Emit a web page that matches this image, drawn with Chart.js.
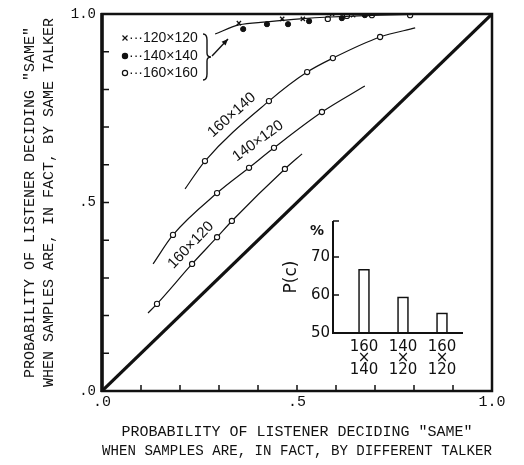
<!DOCTYPE html>
<html>
<head>
<meta charset="utf-8">
<script src="https://cdn.jsdelivr.net/npm/chart.js@4.4.1/dist/chart.umd.min.js"></script>
<style>
  html, body { margin: 0; padding: 0; background: #fff; }
  #wrap { position: relative; width: 524px; height: 465px; }
  #mainChart { position: absolute; left: 0; top: 0; }
  #insetChart { position: absolute; left: 275px; top: 210px; }
</style>
</head>
<body>
<div id="wrap">
  <canvas id="mainChart" width="524" height="465"></canvas>
  <canvas id="insetChart" width="205" height="170"></canvas>
</div>
<script>
let axisTickValues = [0, 0.5, 1],
  axisTickLabels = [".0", ".5", "1.0"];

let legendLabels = ["120×120", "140×140", "160×160"];

// same talker pairs, all squeezed up near 1.0
let same120x = [0.351, 0.462, 0.515, 0.59, 0.644],
  same120y = [0.976, 0.987, 0.987, 1.0, 0.997],
  same140x = [0.362, 0.423, 0.477, 0.531, 0.615, 0.674],
  same140y = [0.96, 0.973, 0.973, 0.981, 0.989, 0.997],
  same160x = [0.579, 0.628, 0.692, 0.79],
  same160y = [0.987, 0.995, 0.997, 0.997];
let sameFitX = [0.29, 0.351, 0.423, 0.508, 0.585, 0.713, 0.836],
  sameFitY = [0.947, 0.971, 0.979, 0.987, 0.992, 0.997, 1.0];

// different talker pairs (first and last value = where the drawn curve stops)
let curveLabels = ["160×140", "140×120", "160×120"];
let c160x140x = [0.213, 0.264, 0.428, 0.526, 0.592, 0.713, 0.803],
  c160x140y = [0.536, 0.61, 0.769, 0.846, 0.883, 0.939, 0.963];
let c140x120x = [0.131, 0.182, 0.295, 0.377, 0.441, 0.564, 0.674],
  c140x120y = [0.337, 0.414, 0.525, 0.592, 0.645, 0.74, 0.809];
let c160x120x = [0.118, 0.141, 0.231, 0.295, 0.333, 0.469, 0.513],
  c160x120y = [0.207, 0.231, 0.337, 0.408, 0.451, 0.589, 0.629];
let diagX = [0, 1],
  diagY = [0, 1];

// inset: percent correct
let pairLabels = [["160", "×", "140"], ["140", "×", "120"], ["160", "×", "120"]],
  pcValues = [66.8, 59.5, 55.3],
  pcTicks = [50, 60, 70];

let ink = "#111";
let mono = "'Liberation Mono', 'DejaVu Sans Mono', monospace";
let sans = "'DejaVu Sans', 'Liberation Sans', sans-serif";
let narrow = "'Liberation Sans', Arial, sans-serif";

Chart.defaults.color = ink;
Chart.defaults.animation = false;

let pts = (xs, ys) => xs.map((v, i) => ({ x: v, y: ys[i] }));
let endsHidden = (n) => (c) => (c.dataIndex === 0 || c.dataIndex === n - 1 ? 0 : 2.6);

let curveSet = (xs, ys) => ({
  data: pts(xs, ys),
  showLine: true,
  borderColor: ink,
  borderWidth: 1.2,
  cubicInterpolationMode: "monotone",
  pointRadius: endsHidden(xs.length),
  pointBackgroundColor: "#fff",
  pointBorderColor: ink,
  pointBorderWidth: 1.1,
});

// label spots along the curves (data units) and their slant
let curveLabelSpots = [
  { x: 0.333, y: 0.732, angle: -42 },
  { x: 0.4, y: 0.663, angle: -36 },
  { x: 0.228, y: 0.387, angle: -46 },
];

let drawMarker = (ctx, kind, px, py) => {
  ctx.beginPath();
  if (kind == 0) {
    ctx.moveTo(px - 2.5, py - 2.5); ctx.lineTo(px + 2.5, py + 2.5);
    ctx.moveTo(px + 2.5, py - 2.5); ctx.lineTo(px - 2.5, py + 2.5);
    ctx.stroke();
  } else {
    ctx.arc(px, py, 2.6, 0, Math.PI * 2);
    ctx.fillStyle = kind == 1 ? ink : "#fff";
    ctx.fill();
    ctx.stroke();
  }
};

let paperPlugin = {
  id: "paper",
  afterDatasetsDraw(chart) {
    let { ctx, chartArea: a, scales: { x, y } } = chart;
    ctx.save();
    ctx.strokeStyle = ink;
    ctx.fillStyle = ink;

    // frame
    ctx.lineWidth = 2.5;
    ctx.strokeRect(a.left, a.top, a.right - a.left, a.bottom - a.top);
    ctx.lineWidth = 3.5;
    ctx.beginPath();
    ctx.moveTo(a.left, a.top - 1);
    ctx.lineTo(a.left, a.bottom + 1);
    ctx.stroke();

    // inner ticks every .1
    ctx.lineWidth = 1.5;
    ctx.beginPath();
    for (let i = 1; i < 10; i++) {
      let py = y.getPixelForValue(i / 10), px = x.getPixelForValue(i / 10);
      ctx.moveTo(a.left, py); ctx.lineTo(a.left + 7, py);
      ctx.moveTo(px, a.bottom); ctx.lineTo(px, a.bottom - 6);
    }
    ctx.stroke();

    // curve names
    ctx.font = "15px " + narrow;
    ctx.textAlign = "center";
    ctx.textBaseline = "middle";
    curveLabels.forEach((t, i) => {
      let s = curveLabelSpots[i];
      ctx.save();
      ctx.translate(x.getPixelForValue(s.x), y.getPixelForValue(s.y));
      ctx.rotate((s.angle * Math.PI) / 180);
      ctx.fillText(t, 0, 0);
      ctx.restore();
    });

    // legend box for the same-talker points
    let lx = a.left + 23, rows = [a.top + 24, a.top + 42, a.top + 59];
    ctx.lineWidth = 1.2;
    ctx.textAlign = "left";
    legendLabels.forEach((t, i) => {
      drawMarker(ctx, i, lx, rows[i]);
      ctx.fillStyle = ink;
      ctx.font = "14px " + narrow;
      ctx.fillText("···" + t, lx + 4, rows[i]);
    });

    // brace + arrow
    let bx = a.left + 101, top = a.top + 20, mid = a.top + 43, bot = a.top + 66;
    ctx.lineWidth = 1.4;
    ctx.beginPath();
    ctx.moveTo(bx, top);
    ctx.quadraticCurveTo(bx + 4, top, bx + 4, top + 6);
    ctx.lineTo(bx + 4, mid - 4);
    ctx.quadraticCurveTo(bx + 4, mid, bx + 8, mid);
    ctx.quadraticCurveTo(bx + 4, mid, bx + 4, mid + 4);
    ctx.lineTo(bx + 4, bot - 6);
    ctx.quadraticCurveTo(bx + 4, bot, bx, bot);
    ctx.stroke();

    let ax0 = bx + 9, ay0 = mid - 1, ax1 = bx + 25, ay1 = a.top + 25;
    ctx.beginPath();
    ctx.moveTo(ax0, ay0);
    ctx.lineTo(ax1, ay1);
    ctx.stroke();
    let ang = Math.atan2(ay1 - ay0, ax1 - ax0);
    ctx.beginPath();
    ctx.moveTo(ax1, ay1);
    ctx.lineTo(ax1 - 7 * Math.cos(ang - 0.4), ay1 - 7 * Math.sin(ang - 0.4));
    ctx.lineTo(ax1 - 7 * Math.cos(ang + 0.4), ay1 - 7 * Math.sin(ang + 0.4));
    ctx.closePath();
    ctx.fill();

    ctx.restore();
  },
};

new Chart(document.getElementById("mainChart"), {
  type: "scatter",
  data: {
    datasets: [
      { data: pts(diagX, diagY), showLine: true, borderColor: ink, borderWidth: 3.2, pointRadius: 0 },
      curveSet(c160x140x, c160x140y),
      curveSet(c140x120x, c140x120y),
      curveSet(c160x120x, c160x120y),
      { data: pts(sameFitX, sameFitY), showLine: true, borderColor: ink, borderWidth: 1.2, cubicInterpolationMode: "monotone", pointRadius: 0 },
      { data: pts(same120x, same120y), pointStyle: "crossRot", pointRadius: 3, borderColor: ink, borderWidth: 1.3 },
      { data: pts(same140x, same140y), pointRadius: 2.6, backgroundColor: ink, borderColor: ink },
      { data: pts(same160x, same160y), pointRadius: 2.6, backgroundColor: "#fff", borderColor: ink, borderWidth: 1.1 },
    ],
  },
  options: {
    responsive: false,
    devicePixelRatio: 1,
    layout: { padding: { top: 14, right: 32, left: 0, bottom: 0 } },
    plugins: { legend: { display: false }, tooltip: { enabled: false } },
    scales: {
      x: {
        type: "linear",
        min: 0,
        max: 1,
        grid: { display: false, drawTicks: false },
        border: { display: false },
        ticks: {
          stepSize: 0.5,
          padding: 2,
          font: { family: mono, size: 15 },
          callback: (v) => axisTickLabels[axisTickValues.indexOf(v)],
        },
        title: {
          display: true,
          text: ['PROBABILITY OF LISTENER DECIDING "SAME"', "WHEN SAMPLES ARE, IN FACT, BY DIFFERENT TALKER"],
          font: { family: mono, size: 15, lineHeight: "19px" },
          padding: { top: 0, bottom: 4.5 },
        },
        afterFit: (s) => { s.height = 74; },
      },
      y: {
        type: "linear",
        min: 0,
        max: 1,
        grid: { display: false, drawTicks: false },
        border: { display: false },
        ticks: {
          stepSize: 0.5,
          padding: 6,
          font: { family: mono, size: 14 },
          callback: (v) => axisTickLabels[axisTickValues.indexOf(v)],
        },
        title: {
          display: true,
          text: ['PROBABILITY OF LISTENER DECIDING "SAME"', "WHEN SAMPLES ARE, IN FACT, BY SAME TALKER"],
          font: { family: mono, size: 15, lineHeight: "19px" },
          padding: { top: 20.5, bottom: 0 },
        },
        afterFit: (s) => { s.width = 102; s.paddingTop = 0; s.paddingBottom = 0; },
      },
    },
  },
  plugins: [paperPlugin],
});

let insetAxes = {
  id: "insetAxes",
  afterDatasetsDraw(chart) {
    let { ctx, chartArea: a, scales: { y } } = chart;
    let axisX = a.left - 11.5;
    ctx.save();
    ctx.strokeStyle = ink;
    ctx.fillStyle = ink;
    ctx.lineWidth = 2;
    ctx.beginPath();
    ctx.moveTo(axisX, a.top);
    ctx.lineTo(axisX, a.bottom);
    ctx.lineTo(a.right + 1.5, a.bottom);
    ctx.stroke();
    ctx.lineWidth = 1.5;
    ctx.beginPath();
    [60, 70].forEach((v) => {
      let py = y.getPixelForValue(v);
      ctx.moveTo(axisX, py); ctx.lineTo(axisX + 6, py);
    });
    ctx.moveTo(axisX, a.top); ctx.lineTo(axisX + 6, a.top);
    ctx.stroke();
    ctx.font = "bold 14px " + sans;
    ctx.textAlign = "center";
    ctx.textBaseline = "middle";
    ctx.fillText("%", axisX - 16, a.top + 10);
    ctx.restore();
  },
};

new Chart(document.getElementById("insetChart"), {
  type: "bar",
  data: {
    labels: pairLabels,
    datasets: [
      { data: pcValues, backgroundColor: "#fff", borderColor: ink, borderWidth: 1.6, barThickness: 11 },
    ],
  },
  options: {
    responsive: false,
    devicePixelRatio: 1,
    layout: { padding: { top: 11, right: 18.5, left: 0, bottom: 0 } },
    plugins: { legend: { display: false }, tooltip: { enabled: false } },
    scales: {
      x: {
        grid: { display: false, drawTicks: false },
        border: { display: false },
        ticks: { padding: 8, font: { family: sans, size: 15, lineHeight: "11.5px" } },
        afterFit: (s) => { s.height = 47; },
      },
      y: {
        min: 50,
        max: 79.5,
        grid: { display: false, drawTicks: false },
        border: { display: false },
        ticks: {
          stepSize: 10,
          padding: 14.5,
          font: { family: sans, size: 15 },
          callback: (v) => (pcTicks.includes(v) ? v : ""),
        },
        title: { display: true, text: "P(c)", font: { family: sans, size: 17, lineHeight: 1 }, padding: { top: 8.5, bottom: 0 } },
        afterFit: (s) => { s.width = 69.5; s.paddingTop = 0; s.paddingBottom = 0; },
      },
    },
  },
  plugins: [insetAxes],
});
</script>
</body>
</html>
